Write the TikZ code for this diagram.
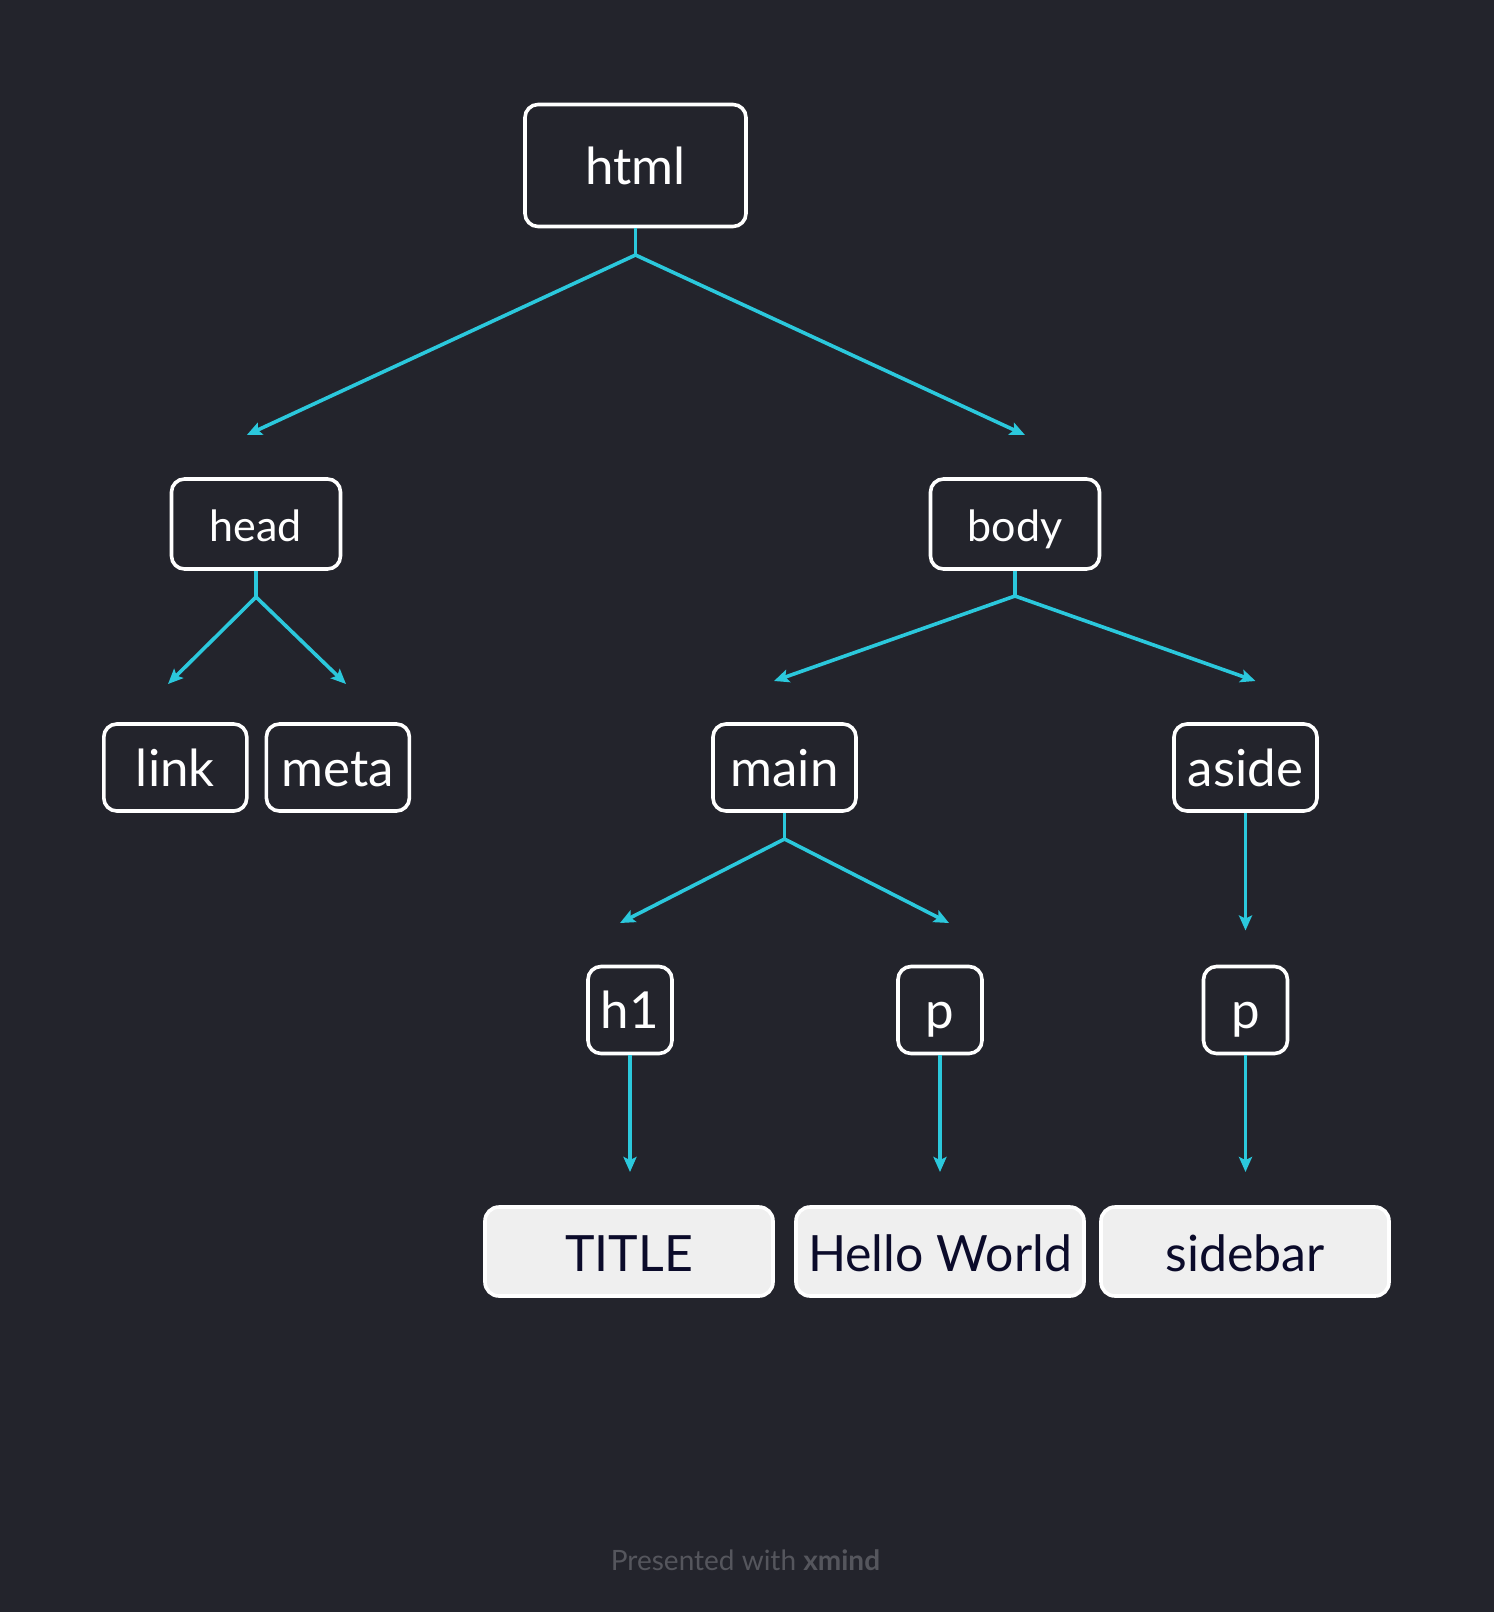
\documentclass[tikz,border=0pt]{standalone}
\usepackage{fontspec}
\setmainfont{Lato}
\usetikzlibrary{arrows.meta}
\definecolor{bg}{HTML}{23242C}
\definecolor{cyanl}{HTML}{2BC8DC}
\definecolor{leaf}{HTML}{EFEFEF}
\definecolor{leaftext}{HTML}{0B0B2A}
\definecolor{foot}{HTML}{55565D}
\tikzset{
  tbox/.style={draw=white, line width=3.6pt, rounded corners=13pt, fill=bg, text=white, inner sep=0pt},
  big/.style={font=\fontsize{51}{60}\selectfont, text height=40pt, text depth=3pt},
  mid/.style={font=\fontsize{43}{50}\selectfont, text height=36pt, text depth=1pt},
  leafbox/.style={draw=white, line width=3.6pt, rounded corners=14pt, fill=leaf, text=leaftext, inner sep=0pt,
    minimum width=288pt, minimum height=89pt, font=\fontsize{50}{60}\selectfont,
    text height=40pt, text depth=1pt},
  conn/.style={draw=cyanl, line width=3.6pt},
  arr/.style={draw=cyanl, line width=3.6pt, -{Stealth[length=15pt,width=13pt,inset=3pt]}}
}
\begin{document}
\begin{tikzpicture}[x=1pt,y=-1pt]
\fill[bg] (0,0) rectangle (1494,1612);
\useasboundingbox (0,0) rectangle (1494,1612);
% nodes
\node[tbox,big,minimum width=221pt,minimum height=122pt] (html) at (635.5,165.5) {html};
\node[tbox,mid,minimum width=169pt,minimum height=90pt] (head) at (256,524) {head};
\node[tbox,mid,minimum width=169pt,minimum height=90pt] (body) at (1015,524) {body};
\node[tbox,big,minimum width=143pt,minimum height=87pt] (link) at (175.3,767.5) {link};
\node[tbox,big,minimum width=143pt,minimum height=87pt] (meta) at (337.9,767.5) {meta};
\node[tbox,big,minimum width=143pt,minimum height=87pt] (main) at (784.5,767.5) {main};
\node[tbox,big,minimum width=143pt,minimum height=87pt] (aside) at (1245.5,767.5) {aside};
\node[tbox,big,minimum width=84pt,minimum height=87pt] (h1) at (630,1010) {h1};
\node[tbox,big,minimum width=84pt,minimum height=87pt] (p) at (940,1010) {p};
\node[tbox,big,minimum width=84pt,minimum height=87pt] (p2) at (1245.5,1010) {p};
\node[leafbox] (title) at (629,1251.5) {TITLE};
\node[leafbox] (hello) at (940,1251.5) {Hello World};
\node[leafbox] (sidebar) at (1245,1251.5) {sidebar};
\node[text=foot, font=\fontsize{28}{34}\selectfont] (footer) at (745.5,1560) {Presented with \textbf{xmind}};
% coordinates
\coordinate (b0) at (635.5,255);
\coordinate (e01) at (246.8,435);
\coordinate (e02) at (1025,435);
\coordinate (b1) at (256,597);
\coordinate (e11) at (168,684);
\coordinate (e12) at (346,684);
\coordinate (b2) at (1015,596);
\coordinate (e21) at (774,681);
\coordinate (e22) at (1255.5,681);
\coordinate (b3) at (784.5,839);
\coordinate (e31) at (620,923);
\coordinate (e32) at (949,923);
\coordinate (e4) at (1245.5,930.5);
\coordinate (e5) at (630,1172);
\coordinate (e6) at (940,1172);
\coordinate (e7) at (1245.5,1172);
% connectors
\draw[conn] (html.south) -- (b0);
\draw[arr] (b0) -- (e01);
\draw[arr] (b0) -- (e02);
\draw[conn] (head.south) -- (b1);
\draw[arr] (b1) -- (e11);
\draw[arr] (b1) -- (e12);
\draw[conn] (body.south) -- (b2);
\draw[arr] (b2) -- (e21);
\draw[arr] (b2) -- (e22);
\draw[conn] (main.south) -- (b3);
\draw[arr] (b3) -- (e31);
\draw[arr] (b3) -- (e32);
\draw[arr] (aside.south) -- (e4);
\draw[arr] (h1.south) -- (e5);
\draw[arr] (p.south) -- (e6);
\draw[arr] (p2.south) -- (e7);
\end{tikzpicture}
\end{document}
